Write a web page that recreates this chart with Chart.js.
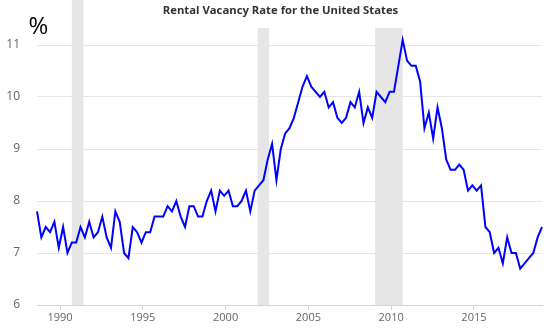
<!DOCTYPE html>
<html>
<head>
<meta charset="utf-8">
<script src="https://cdn.jsdelivr.net/npm/chart.js@4"></script>
<style>
body{margin:0;background:#fff;}
#wrap{width:549px;height:335px;position:relative;}
</style>
</head>
<body>
<div id="wrap"><canvas id="chart"></canvas></div>
<script>
// quarterly rental vacancy rate, % (first point = 1988 Q3)
const firstQuarter=1988.5;
const vacancy=[
 7.8,7.3,
 7.5,7.4,7.6,7.1,
 7.5,7.0,7.2,7.2,
 7.5,7.3,7.6,7.3,
 7.4,7.7,7.3,7.1,
 7.8,7.6,7.0,6.9,
 7.5,7.4,7.2,7.4,
 7.4,7.7,7.7,7.7,
 7.9,7.8,8.0,7.7,
 7.5,7.9,7.9,7.7,
 7.7,8.0,8.2,7.8,
 8.2,8.1,8.2,7.9,
 7.9,8.0,8.2,7.8,
 8.2,8.3,8.4,8.8,
 9.1,8.4,9.0,9.3,
 9.4,9.6,9.9,10.2,
 10.4,10.2,10.1,10.0,
 10.1,9.8,9.9,9.6,
 9.5,9.6,9.9,9.8,
 10.1,9.5,9.8,9.6,
 10.1,10.0,9.9,10.1,
 10.1,10.6,11.1,10.7,
 10.6,10.6,10.3,9.4,
 9.7,9.2,9.8,9.4,
 8.8,8.6,8.6,8.7,
 8.6,8.2,8.3,8.2,
 8.3,7.5,7.4,7.0,
 7.1,6.8,7.3,7.0,
 7.0,6.7,6.8,6.9,
 7.0,7.3,7.5
];
// recessions (decimal years)
const recessionStart=[1990.5,2001.167,2007.917];
const recessionEnd=[1991.167,2001.833,2009.5];
const yTicks=[6,7,8,9,10,11];
const yearLabels=[1990,1995,2000,2005,2010,2015];
// the year labels in the original sit on their own, slightly compressed scale
const labelMin=1988.61, labelMax=2019.11;

const points=vacancy.map((v,i)=>({x:firstQuarter+i*0.25,y:v}));

Chart.defaults.font.family='"Open Sans", sans-serif';

const extras={
 id:"extras",
 beforeDatasetsDraw(c){
  const ctx=c.ctx, xs=c.scales.x, a=c.chartArea;
  ctx.save();
  ctx.fillStyle="#e6e6e6";
  recessionStart.forEach((s,i)=>{
   const x1=xs.getPixelForValue(s), x2=xs.getPixelForValue(recessionEnd[i]);
   ctx.fillRect(x1,0,x2-x1,a.bottom);
  });
  ctx.restore();
 },
 afterDraw(c){
  const ctx=c.ctx;
  ctx.save();
  const title="Rental Vacancy Rate for the United States";
  ctx.font='bold 11.3px "Open Sans", sans-serif';
  const w=ctx.measureText(title).width;
  const cx=280.5;
  ctx.fillStyle="#fff";
  ctx.fillRect(cx-w/2-20,0,w+40,28);
  ctx.fillStyle="#333";
  ctx.textAlign="center";
  ctx.textBaseline="middle";
  ctx.fillText(title,cx,11);
  ctx.font='24px "Open Sans", sans-serif';
  ctx.fillStyle="#000";
  ctx.textBaseline="alphabetic";
  ctx.fillText("%",38.5,34);
  ctx.restore();
 }
};

new Chart(document.getElementById("chart"),{
 type:"line",
 data:{datasets:[{data:points,borderColor:"#0000ff",borderWidth:2,pointRadius:0,tension:0,clip:false,xAxisID:"x",yAxisID:"y"}]},
 options:{
  responsive:true,maintainAspectRatio:false,animation:false,
  layout:{padding:{top:45,right:7,left:0,bottom:0}},
  plugins:{legend:{display:false},tooltip:{enabled:false}},
  scales:{
   x:{type:"linear",display:false,min:firstQuarter,max:firstQuarter+(vacancy.length-1)*0.25},
   xl:{type:"linear",position:"bottom",min:labelMin,max:labelMax,
    afterBuildTicks:s=>{s.ticks=yearLabels.map(v=>({value:v}));},
    afterFit:s=>{s.height=30;},
    grid:{drawOnChartArea:false,drawTicks:true,tickLength:5,tickColor:"#ccd6eb"},
    border:{color:"#ccd6eb",width:1},
    ticks:{color:"#666",font:{size:11},padding:1,maxRotation:0,callback:v=>String(v)}},
   y:{min:6,max:11,
    afterBuildTicks:s=>{s.ticks=yTicks.map(v=>({value:v}));},
    afterFit:s=>{s.width=37;},
    grid:{color:"#e6e6e6",drawTicks:false},
    border:{display:false},
    ticks:{color:"#666",font:{size:12},padding:17}}
  }
 },
 plugins:[extras]
});
</script>
</body>
</html>
